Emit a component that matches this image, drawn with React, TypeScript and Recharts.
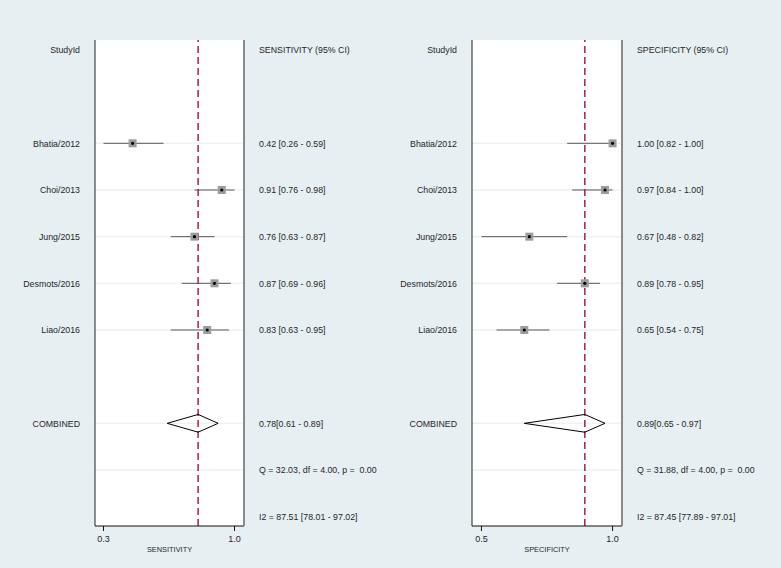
import React from "react";
import {
  ComposedChart,
  XAxis,
  YAxis,
  Scatter,
  ReferenceLine,
  CartesianGrid,
} from "recharts";

/* ------------------------------------------------------------------ */
/*  DATA                                                               */
/* ------------------------------------------------------------------ */

const STUDIES = ["Bhatia/2012", "Choi/2013", "Jung/2015", "Desmots/2016", "Liao/2016"];

const SENS_EST = [0.42, 0.91, 0.76, 0.87, 0.83];
const SENS_LO = [0.26, 0.76, 0.63, 0.69, 0.63];
const SENS_HI = [0.59, 0.98, 0.87, 0.96, 0.95];
const SENS_POOLED = [0.78, 0.61, 0.89];
const SENS_Q = "Q = 32.03, df = 4.00, p =  0.00";
const SENS_I2 = "I2 = 87.51 [78.01 - 97.02]";
const SENS_TICKS = [0.26, 0.98];

const SPEC_EST = [1.0, 0.97, 0.67, 0.89, 0.65];
const SPEC_LO = [0.82, 0.84, 0.48, 0.78, 0.54];
const SPEC_HI = [1.0, 1.0, 0.82, 0.95, 0.75];
const SPEC_POOLED = [0.89, 0.65, 0.97];
const SPEC_Q = "Q = 31.88, df = 4.00, p =  0.00";
const SPEC_I2 = "I2 = 87.45 [77.89 - 97.01]";
const SPEC_TICKS = [0.48, 1.0];

const FONT = '"Liberation Sans", Arial, Helvetica, sans-serif';
const TEXT = "#262626";
const RED = "#a6223f";

const f2 = (v: number) => v.toFixed(2);

// eslint-disable-next-line @typescript-eslint/no-explicit-any
function StudyMarker(props: any) {
  const { cx, cy } = props;
  return (
    <g>
      <rect x={cx - 4} y={cy - 4} width={8} height={8} fill="#9c9c9c" />
      <circle cx={cx} cy={cy} r={1.6} fill="#000" />
    </g>
  );
}

function NoShape() {
  return <g />;
}

type PanelProps = {
  title: string;
  axisTitle: string;
  est: number[];
  lo: number[];
  hi: number[];
  pooled: number[];
  q: string;
  i2: string;
  ticks: number[];
  domain: [number, number];
  width: number;
  leftW: number;
  rightW: number;
};

function Panel({ title, axisTitle, est, lo, hi, pooled, q, i2, ticks, domain, width, leftW, rightW }: PanelProps) {
  // row layout: 0 header, studies from 2, blank, combined, Q, I2
  const first = 2;
  const combRow = first + STUDIES.length + 1;
  const qRow = combRow + 1;
  const i2Row = combRow + 2;

  const leftLabels: Record<number, string> = { 0: "StudyId", [combRow]: "COMBINED" };
  const rightLabels: Record<number, string> = {
    0: title,
    [combRow]: `${f2(pooled[0])}[${f2(pooled[1])} - ${f2(pooled[2])}]`,
    [qRow]: q,
    [i2Row]: i2,
  };
  STUDIES.forEach((s, i) => {
    leftLabels[first + i] = s;
    rightLabels[first + i] = `${f2(est[i])} [${f2(lo[i])} - ${f2(hi[i])}]`;
  });
  const rowTicks = Object.keys(rightLabels).map(Number).sort((a, b) => a - b);
  const gridRows = [...STUDIES.map((_, i) => first + i), combRow, qRow];

  const points = est.map((v, i) => ({ x: v, y: first + i }));
  const h = 0.19;
  const diamond = [
    { x: pooled[1], y: combRow },
    { x: pooled[0], y: combRow - h },
    { x: pooled[2], y: combRow },
    { x: pooled[0], y: combRow + h },
    { x: pooled[1], y: combRow },
  ];

  // eslint-disable-next-line @typescript-eslint/no-explicit-any
  const leftTick = (p: any) => (
    <text x={p.x} y={p.y} dy={3.2} textAnchor="end" fontSize={8.8} fill={TEXT} fontFamily={FONT}>
      {leftLabels[p.payload.value] ?? ""}
    </text>
  );
  // eslint-disable-next-line @typescript-eslint/no-explicit-any
  const rightTick = (p: any) => (
    <text x={p.x} y={p.y} dy={3.2} textAnchor="start" fontSize={8.8} fill={TEXT} fontFamily={FONT} style={{ whiteSpace: "pre" }}>
      {rightLabels[p.payload.value] ?? ""}
    </text>
  );

  return (
    <ComposedChart width={width} height={568} margin={{ top: 40, right: 0, bottom: 0, left: 0 }}>
      <CartesianGrid yAxisId="l" fill="#ffffff" fillOpacity={1} horizontal={false} vertical={false} />
      <XAxis
        type="number"
        dataKey="x"
        domain={domain}
        ticks={ticks}
        allowDataOverflow
        tickFormatter={(v: number) => v.toFixed(1)}
        height={42}
        axisLine={{ stroke: "#111" }}
        tickLine={{ stroke: "#111" }}
        tickSize={5}
        tickMargin={5}
        tick={{ fontSize: 9, fill: TEXT, fontFamily: FONT }}
        label={{ value: axisTitle, position: "insideBottom", offset: 16, fontSize: 7.4, fill: TEXT, fontFamily: FONT }}
      />
      <YAxis
        yAxisId="l"
        type="number"
        dataKey="y"
        orientation="left"
        domain={[-0.214, 10.2]}
        reversed
        allowDataOverflow
        ticks={rowTicks}
        interval={0}
        width={leftW}
        axisLine={{ stroke: "#222" }}
        tickLine={false}
        tickSize={0}
        tickMargin={15}
        tick={leftTick}
      />
      <YAxis
        yAxisId="r"
        type="number"
        dataKey="y"
        orientation="right"
        domain={[-0.214, 10.2]}
        reversed
        allowDataOverflow
        ticks={rowTicks}
        interval={0}
        width={rightW}
        axisLine={{ stroke: "#8a8a8a", strokeWidth: 2 }}
        tickLine={false}
        tickSize={0}
        tickMargin={15}
        tick={rightTick}
      />
      {gridRows.map((r) => (
        <ReferenceLine key={`g-${r}`} yAxisId="l" y={r} stroke="#edf2f4" strokeWidth={1.5} />
      ))}
      {STUDIES.map((s, i) => (
        <ReferenceLine
          key={`ci-${s}`}
          yAxisId="l"
          segment={[
            { x: lo[i], y: first + i },
            { x: hi[i], y: first + i },
          ]}
          stroke="#5a5a5a"
          strokeWidth={1}
        />
      ))}
      <ReferenceLine yAxisId="l" x={pooled[0]} stroke={RED} strokeWidth={1.5} strokeDasharray="7 4" />
      <Scatter
        yAxisId="l"
        data={diamond}
        dataKey="y"
        shape={NoShape}
        line={{ stroke: "#000", strokeWidth: 1 }}
        lineType="joint"
        isAnimationActive={false}
      />
      <Scatter yAxisId="l" data={points} dataKey="y" shape={StudyMarker} isAnimationActive={false} />
    </ComposedChart>
  );
}

export default function App() {
  return (
    <div
      style={{
        position: "absolute",
        left: 0,
        top: 0,
        width: 781,
        height: 568,
        background: "#e8eff2",
        display: "flex",
        fontFamily: FONT,
      }}
    >
      <Panel
        title="SENSITIVITY (95% CI)"
        axisTitle="SENSITIVITY"
        est={SENS_EST}
        lo={SENS_LO}
        hi={SENS_HI}
        pooled={SENS_POOLED}
        q={SENS_Q}
        i2={SENS_I2}
        ticks={SENS_TICKS}
        domain={[0.2133, 1.0322]}
        width={390}
        leftW={95}
        rightW={146}
      />
      <Panel
        title="SPECIFICITY (95% CI)"
        axisTitle="SPECIFICITY"
        est={SPEC_EST}
        lo={SPEC_LO}
        hi={SPEC_HI}
        pooled={SPEC_POOLED}
        q={SPEC_Q}
        i2={SPEC_I2}
        ticks={SPEC_TICKS}
        domain={[0.4426, 1.0374]}
        width={391}
        leftW={82}
        rightW={159}
      />
    </div>
  );
}
